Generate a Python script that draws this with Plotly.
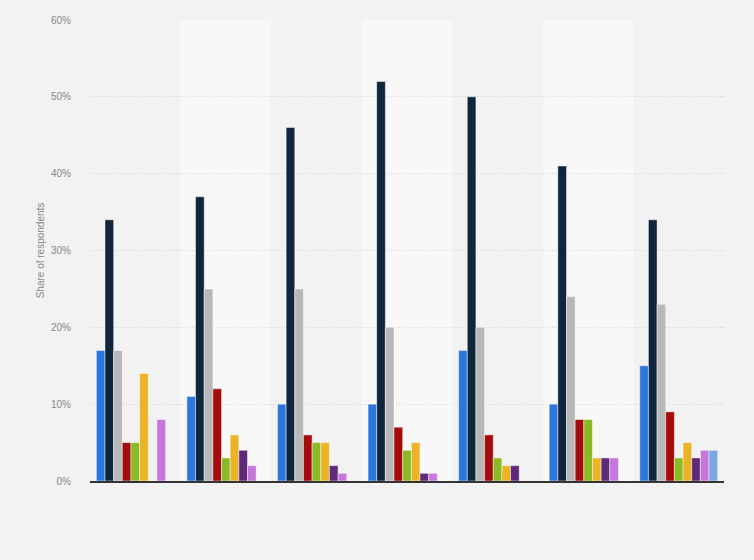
import plotly.graph_objects as go

categories = ["Group 1", "Group 2", "Group 3", "Group 4", "Group 5", "Group 6", "Group 7"]

series_names = ["Series 1", "Series 2", "Series 3", "Series 4", "Series 5",
                "Series 6", "Series 7", "Series 8", "Series 9"]

s1 = [17, 11, 10, 10, 17, 10, 15]
s2 = [34, 37, 46, 52, 50, 41, 34]
s3 = [17, 25, 25, 20, 20, 24, 23]
s4 = [5, 12, 6, 7, 6, 8, 9]
s5 = [5, 3, 5, 4, 3, 8, 3]
s6 = [14, 6, 5, 5, 2, 3, 5]
s7 = [None, 4, 2, 1, 2, 3, 3]
s8 = [8, 2, 1, 1, None, 3, 4]
s9 = [None, None, None, None, None, None, 4]

series_values = [s1, s2, s3, s4, s5, s6, s7, s8, s9]
colors = ["#2a77dd", "#10263d", "#b8b8b8", "#a30b0c", "#8aba26",
          "#ebb326", "#5e2a78", "#c577db", "#78a7e2"]

y_ticks = [0, 10, 20, 30, 40, 50, 60]
y_tick_labels = ["0%", "10%", "20%", "30%", "40%", "50%", "60%"]

fig = go.Figure()
for name, vals, col in zip(series_names, series_values, colors):
    fig.add_trace(go.Bar(
        x=categories, y=vals, name=name,
        marker=dict(color=col, line=dict(color="rgba(255,255,255,0.45)", width=1)),
    ))

# alternating background bands for even groups
for i in range(1, len(categories), 2):
    fig.add_shape(type="rect", xref="x", yref="paper",
                  x0=i - 0.5, x1=i + 0.5, y0=0, y1=1,
                  fillcolor="#f8f8f8", line=dict(width=0), layer="below")

fig.update_layout(
    width=754, height=560,
    paper_bgcolor="#f2f2f2", plot_bgcolor="#f2f2f2",
    margin=dict(l=90, r=30, t=20, b=79),
    barmode="group", bargap=0.14, bargroupgap=0,
    showlegend=False,
    font=dict(family="Liberation Sans, Arial, sans-serif", size=10, color="#888888"),
)
fig.update_xaxes(
    showticklabels=False, showgrid=False, ticks="",
    showline=True, linecolor="#333333", linewidth=1.5,
    range=[-0.5, len(categories) - 0.5],
)
fig.update_yaxes(
    range=[0, 60], tickvals=y_ticks, ticktext=y_tick_labels,
    showgrid=True, gridcolor="#d4d4d4", griddash="1px,2px", gridwidth=1,
    zeroline=False, showline=False,
    tickfont=dict(size=10, color="#888888"),
    ticks="outside", ticklen=16, tickcolor="rgba(0,0,0,0)",
    title=dict(text="Share of respondents", font=dict(size=10, color="#888888"), standoff=4),
)

fig.write_html(
    "out.html",
    config={"displayModeBar": False},
    post_script="document.body.style.margin='0';document.body.style.background='#f2f2f2';",
)
